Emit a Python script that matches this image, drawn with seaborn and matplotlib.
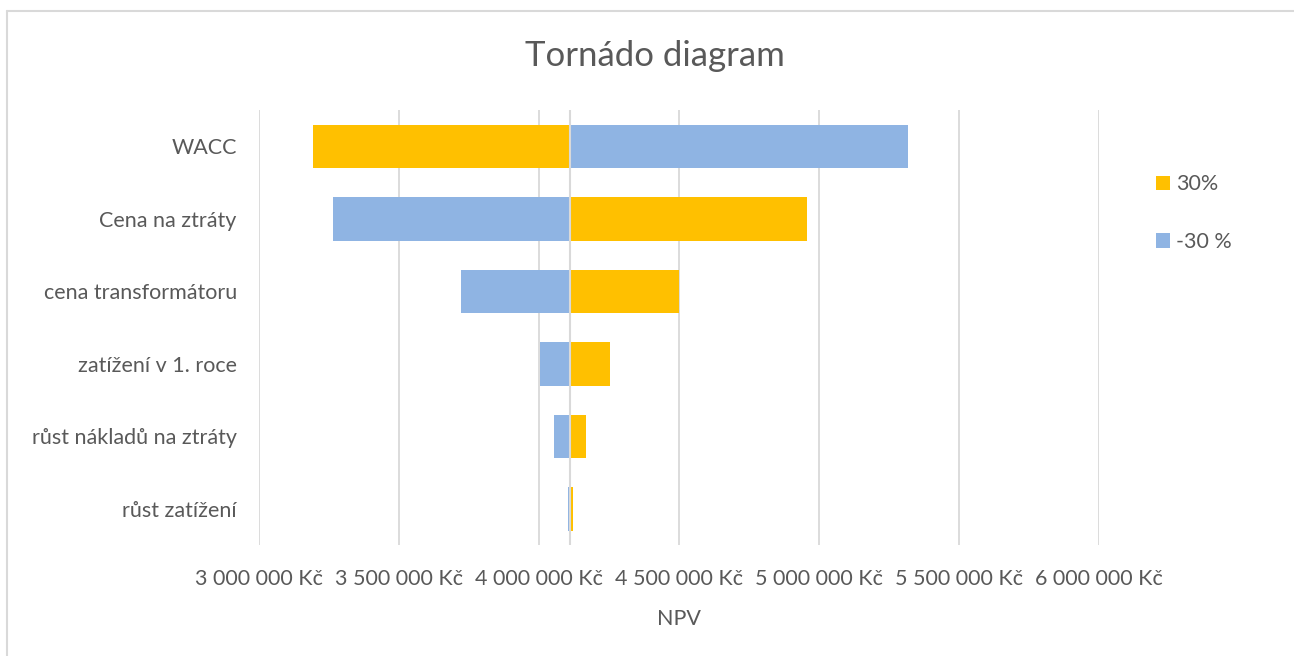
import matplotlib
matplotlib.use("Agg")
import matplotlib.pyplot as plt
from matplotlib.lines import Line2D
from matplotlib.patches import Patch
from matplotlib.ticker import FixedLocator, FuncFormatter
import seaborn as sns
import pandas as pd

# NPV sensitivity: base case and NPV after +30 % / -30 % change of each input
base_npv = 4_110_000
factors = ["WACC", "Cena na ztráty", "cena transformátoru",
           "zatížení v 1. roce", "růst nákladů na ztráty", "růst zatížení"]
npv_plus30 = [3_193_000, 4_956_000, 4_500_000, 4_254_000, 4_168_000, 4_121_000]
npv_minus30 = [5_319_000, 3_265_000, 3_721_000, 4_004_000, 4_054_000, 4_103_000]
series_names = ["30%", "-30 %"]
x_ticks = [3_000_000, 3_500_000, 4_000_000, 4_500_000, 5_000_000, 5_500_000, 6_000_000]

colors = {"30%": "#FFC000", "-30 %": "#8FB4E3"}
text_color = "#595959"
grid_color = "#D9D9D9"

rows = []
for f, p, m in zip(factors, npv_plus30, npv_minus30):
    rows.append({"factor": f, "scenario": series_names[0], "delta": p - base_npv})
    rows.append({"factor": f, "scenario": series_names[1], "delta": m - base_npv})
df = pd.DataFrame(rows)

sns.set_theme(style="white")
plt.rcParams["font.family"] = ["Lato", "DejaVu Sans"]

fig = plt.figure(figsize=(12.94, 6.56), dpi=100)
ax = fig.add_axes([259 / 1294, 1 - 545 / 656, (1099 - 259) / 1294, (545 - 110) / 656])

# bars start at the base NPV and extend by the change of each scenario
sns.barplot(data=df, x="delta", y="factor", hue="scenario", order=factors,
            hue_order=series_names, palette=colors, dodge=False, width=0.6,
            left=base_npv, orient="h", ax=ax, zorder=3, linewidth=0,
            saturation=1, legend=False)

ax.set_xlim(x_ticks[0], x_ticks[-1])
ax.set_ylim(len(factors) - 0.5, -0.5)
ax.xaxis.set_major_locator(FixedLocator(x_ticks))
ax.xaxis.set_major_formatter(FuncFormatter(
    lambda v, pos: f"{int(round(v)):,}".replace(",", " ") + " Kč"))
ax.grid(axis="x", color=grid_color, linewidth=1.3, zorder=0)
ax.axvline(base_npv, color=grid_color, linewidth=1.5, zorder=4)
for s in ax.spines.values():
    s.set_visible(False)
ax.tick_params(axis="both", length=0, colors=text_color, labelsize=15.5)
ax.tick_params(axis="x", pad=17.5)
ax.tick_params(axis="y", pad=16)
ax.set_ylabel("")
ax.set_xlabel("NPV", color=text_color, fontsize=15.5, labelpad=14)

fig.text(655 / 1294, 1 - 56 / 656, "Tornádo diagram", ha="center", va="center",
         fontsize=25, color=text_color)

handles = [Patch(facecolor=colors[s], edgecolor="none", label=s) for s in series_names]
ax.legend(handles=handles, loc="upper left", bbox_to_anchor=(1137 / 1294, 1 - 155 / 656),
          bbox_transform=fig.transFigure, frameon=False, fontsize=15.5,
          labelcolor=text_color, handlelength=0.65, handleheight=0.65,
          handletextpad=0.25, labelspacing=1.75)

# chart area border (top and left edges)
fig.add_artist(Line2D([7 / 1294, 7 / 1294], [0, 1 - 11 / 656],
                      transform=fig.transFigure, color="#D9D9D9", linewidth=1.5))
fig.add_artist(Line2D([7 / 1294, 1], [1 - 11 / 656, 1 - 11 / 656],
                      transform=fig.transFigure, color="#D9D9D9", linewidth=1.5))

fig.savefig("out.png", dpi=100, facecolor="white")
